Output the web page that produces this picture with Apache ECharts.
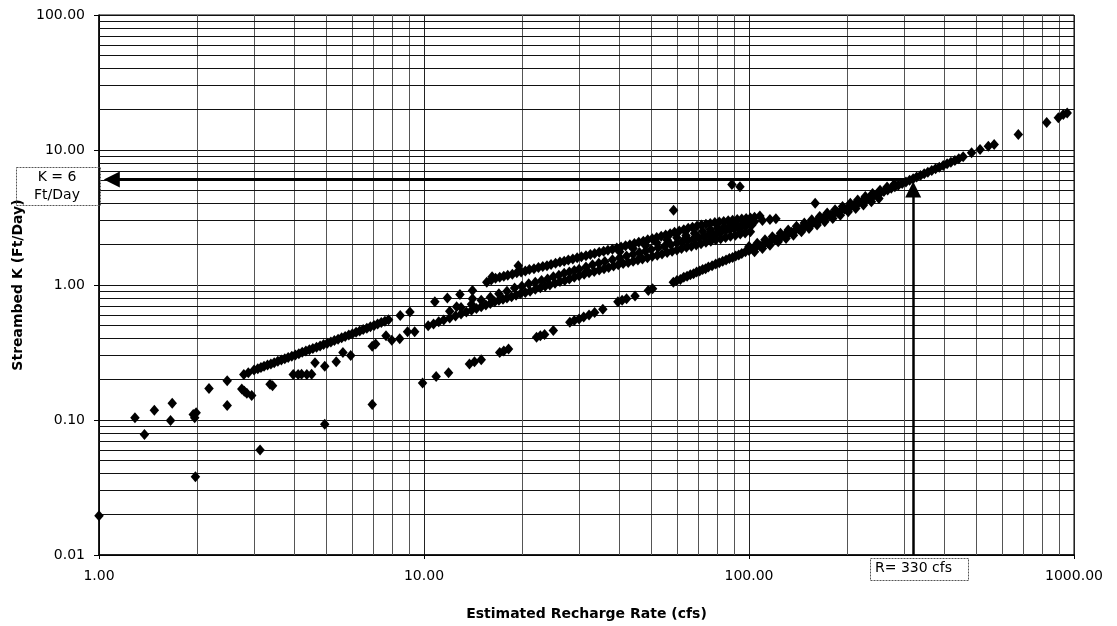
<!DOCTYPE html>
<html>
<head>
<meta charset="utf-8">
<script src="https://cdn.jsdelivr.net/npm/echarts@6/dist/echarts.min.js"></script>
<style>
html,body{margin:0;padding:0;background:#fff;}
#chart{width:1117px;height:626px;}
</style>
</head>
<body>
<div id="chart"></div>
<script>
// ---- axis ticks and grid values ----
const xTickValues = [1, 10, 100, 1000];
const yTickValues = [0.01, 0.1, 1, 10, 100];
const xMinorGrid = [2,3,4,5,6,7,8,9,20,30,40,50,60,70,80,90,200,300,400,500,600,700,800,900];
const yMinorGrid = [0.02,0.03,0.04,0.05,0.06,0.07,0.08,0.09,0.2,0.3,0.4,0.5,0.6,0.7,0.8,0.9,2,3,4,5,6,7,8,9,20,30,40,50,60,70,80,90];

// ---- annotation values ----
const kValue = 6.05;      // K = 6 Ft/Day
const rValue = 320;       // R = 330 cfs (as drawn)

// ---- data (x = recharge cfs, y = K ft/day) ----
const lowScatter = [
[1.0,0.0195],[1.29,0.104],[1.38,0.078],[1.48,0.118],[1.66,0.099],[1.68,0.133],[1.95,0.11],[1.97,0.104],[1.99,0.113],[1.98,0.038],
[2.18,0.171],[2.48,0.195],[2.48,0.128],[2.75,0.17],[2.8,0.163],[2.85,0.158],[2.95,0.152],[3.13,0.06],[3.36,0.184],[3.42,0.179],
[3.96,0.217],[4.1,0.217],[4.2,0.218],[4.36,0.217],[4.51,0.218],[4.62,0.266],[4.95,0.25],[4.95,0.093],[5.37,0.27],[5.63,0.316],
[5.95,0.3],[6.93,0.13],[6.93,0.352],[7.1,0.365],[7.64,0.42],[7.96,0.39],[8.42,0.40],[8.9,0.45],[9.36,0.45]
];
const bandUpper = [
[2.79,0.217],[2.88,0.224],[3.0,0.235],[3.08,0.24],[3.15,0.245],[3.22,0.25],[3.3,0.255],[3.38,0.26],[3.46,0.265],[3.55,0.272],
[3.64,0.278],[3.73,0.284],[3.82,0.29],[3.92,0.297],[4.02,0.303],[4.12,0.31],[4.22,0.317],[4.33,0.324],[4.44,0.331],[4.55,0.338],
[4.67,0.346],[4.79,0.354],[4.91,0.362],[5.04,0.37],[5.17,0.379],[5.3,0.388],[5.44,0.397],[5.58,0.406],[5.72,0.416],[5.87,0.426],
[6.02,0.436],[6.18,0.446],[6.34,0.457],[6.5,0.468],[6.67,0.479],[6.84,0.49],[7.02,0.502],[7.2,0.514],[7.39,0.527],[7.58,0.54],[7.78,0.553],
[8.45,0.595],[9.05,0.63],[10.8,0.75],[11.8,0.80],[12.9,0.85],[14.1,0.91],
[15.6,1.05],[16.1,1.09],[16.6,1.12],[17.1,1.14],[17.6,1.16],[18.1,1.18],[18.7,1.2],[19.3,1.23],[19.9,1.25],[20.5,1.27],
[21.1,1.3],[21.8,1.32],[22.5,1.35],[23.2,1.37],[23.9,1.39],[24.6,1.42],[25.4,1.45],[26.2,1.48],[27.0,1.5],[27.8,1.53],
[28.7,1.56],[29.6,1.59],[30.5,1.62],[31.5,1.65],[32.5,1.68],[33.5,1.71],[34.6,1.75],[35.7,1.78],[36.8,1.81],[38,1.84],
[39.2,1.88],[40.4,1.91],[41.7,1.95],[43,1.99],[44.4,2.03],[45.8,2.07],[47.3,2.11],[48.8,2.16],[50.4,2.2],[52,2.25],
[53.7,2.3],[55.4,2.35],[57.2,2.4],[59,2.46],[61,2.51],[63,2.57],[65,2.63],[67,2.68],[69.2,2.73],[71.4,2.78],
[73.7,2.82],[76,2.86],[78.5,2.9],[81,2.93],[83.6,2.96],[86.3,2.99],[89,3.02],[92,3.05],[95,3.08],[98,3.11],[101,3.14],[104,3.18]
];
const bandMiddle = [
[10.3,0.50],[10.7,0.515],[11.1,0.535],[11.5,0.55],[12,0.57],[12.5,0.59],[13,0.61],[13.5,0.63],[14,0.65],[14.5,0.67],
[15,0.69],[15.5,0.71],[16,0.73],[16.5,0.75],[17,0.77],[17.5,0.785],[18,0.8],[18.6,0.82],[19.2,0.84],[19.8,0.86],
[20.5,0.88],[21.2,0.9],[22,0.93],[22.8,0.955],[23.6,0.98],[24.4,1.0],[25.3,1.03],[26.2,1.06],[27.1,1.08],[28,1.11],
[29,1.14],[30,1.17],[31.1,1.2],[32.2,1.23],[33.4,1.26],[34.6,1.29],[35.8,1.32],[37,1.35],[38.3,1.38],[39.6,1.41],
[41,1.44],[42.5,1.47],[44,1.5],[45.5,1.53],[47,1.56],[48.7,1.59],[50.4,1.63],[52.2,1.66],[54,1.7],[56,1.74],
[58,1.78],[60,1.82],[62,1.86],[64.2,1.9],[66.5,1.94],[68.8,1.98],[71.2,2.02],[73.7,2.07],[76.3,2.11],[79,2.16],
[81.8,2.2],[84.7,2.25],[87.7,2.3],[90.8,2.34],[94,2.39],[97.3,2.43],[101,2.48]
];
const bandMiddle2 = [
[12,0.64],[13,0.68],[14,0.72],[15,0.77],[16,0.81],[17,0.86],[18,0.9],[19,0.95],[20,0.98],[21,1.02],
[22,1.05],[23,1.08],[24,1.11],[25,1.15],[26,1.18],[27,1.22],[28,1.25],[29,1.28],[30,1.31],[31.5,1.36],
[33,1.41],[34.5,1.45],[36,1.49],[38,1.54],[40,1.59],[42,1.64],[44,1.69],[46,1.74],[48,1.78],[50,1.83],
[52.5,1.89],[55,1.94],[57.5,1.99],[60,2.05],[62.5,2.1],[65,2.16],[67.5,2.2],[70,2.25],[72.5,2.3],[75,2.35],
[77.5,2.4],[80,2.45],[82.5,2.5],[85,2.54],[87.5,2.58],[90,2.62],[92.5,2.66],[95,2.7],[98,2.72],[102,2.78]
];
const bandFill = [
[40,1.76],[44,1.86],[48,1.96],[52,2.06],[56,2.15],[60,2.24],[64,2.33],[68,2.42],[72,2.5],[76,2.58],
[80,2.64],[84,2.7],[88,2.76],[92,2.8],[96,2.85],[100,2.9],[104,2.95],[110,3.0],[116,3.05]
];
const bandLowerSparse = [
[9.9,0.188],[10.9,0.21],[11.9,0.224],[13.8,0.26],[14.3,0.27],[15.0,0.28],[17.1,0.316],[17.6,0.325],[18.2,0.335],[22.2,0.41],
[22.8,0.42],[23.5,0.43],[25.0,0.46],[28.1,0.53],[29.0,0.545],[30.0,0.56],[31.0,0.58],[32.2,0.6],[33.5,0.625],[35.5,0.66],
[39.5,0.75],[40.7,0.77],[42,0.79],[44.6,0.83],[49,0.91],[50.5,0.94]
];
const bandLower = [
[58.5,1.05],[60,1.08],[61.5,1.1],[63,1.14],[64.5,1.16],[66,1.19],[67.5,1.21],[69,1.25],[70.5,1.27],[72,1.3],
[73.5,1.32],[75,1.36],[77,1.39],[79,1.43],[81,1.46],[83,1.5],[85,1.53],[87,1.57],[89,1.6],[91,1.64],
[93,1.67],[95,1.71],[97.5,1.76],[100,1.8],[102.5,1.85],[105,1.9],[108,1.95],[111,2.01],[114,2.06],[117,2.12],
[120,2.18],[123,2.23],[126,2.29],[129,2.35],[132,2.4],[135,2.46],[138.5,2.53],[142,2.6],[145.5,2.66],[149,2.73],
[153,2.8],[157,2.88],[161,2.96],[165,3.04],[169,3.12],[173.5,3.2],[178,3.29],[182.5,3.38],[187,3.46],[192,3.56],
[197,3.66],[202,3.76],[207,3.86],[212,3.96],[217.5,4.07],[223,4.18],[229,4.3],[235,4.42],[241,4.54],[247,4.66],
[253,4.79],[260,4.92],[267,5.06],[274,5.2],[281,5.34],[288,5.48],[296,5.64],[304,5.8],[312,5.97],[320,6.13],
[328,6.3],[337,6.48],[346,6.66],[355,6.85],[365,7.05],[375,7.26],[385,7.46],[396,7.68],[407,7.9],[418,8.12],
[430,8.37],[442,8.62],[456,8.9]
];
const bandLowerHigh = [
[100,1.93],[106,2.04],[112,2.16],[118,2.28],[125,2.42],[132,2.56],[140,2.72],[148,2.88],[156,3.04],[165,3.22],
[174,3.41],[184,3.61],[194,3.82],[205,4.04],[216,4.27],[228,4.52],[240,4.77],[253,5.04],[266,5.31],[280,5.6]
];
const bandLowerLow = [
[104,1.76],[110,1.86],[116,1.97],[123,2.09],[130,2.21],[137,2.34],[145,2.48],[153,2.62],[162,2.78],[171,2.94],
[181,3.11],[191,3.29],[202,3.49],[213,3.69],[225,3.91],[238,4.14],[251,4.38]
];
const bandLowerTail = [
[484,9.53],[514,10.1],[545,10.67],[568,11.0],[674,13.0],[824,16.0],[895,17.3],[927,18.3],[953,18.8]
];
const outliers = [
[16.2,1.15],[19.5,1.39],[12.6,0.69],[14.1,0.79],[58.6,3.58],[88.6,5.56],[93.8,5.35],[159.8,4.03],[108,3.25],[121,3.1]
];

// ---- chart ----
const FONT = 'DejaVu Sans, Liberation Sans, Arial, sans-serif';
const chart = echarts.init(document.getElementById('chart'), null, {renderer: 'canvas'});

function scatterSeries(name, data) {
  return {
    name: name, type: 'scatter', data: data, z: 3,
    symbol: 'diamond', symbolSize: [9.5, 11],
    itemStyle: {color: '#000', opacity: 1},
    emphasis: {disabled: true},
    silent: true
  };
}

const gridLines = xMinorGrid.map(v => ({xAxis: v, lineStyle: {color: '#555', width: 1}}))
  .concat(yMinorGrid.map(v => ({yAxis: v, lineStyle: {color: '#111', width: 1.2}})));

const series = [
  Object.assign(scatterSeries('low', lowScatter), {
    markLine: {
      silent: true, z: 1, symbol: 'none', animation: false,
      label: {show: false},
      lineStyle: {type: 'solid'},
      data: gridLines
    }
  }),
  scatterSeries('upper', bandUpper),
  scatterSeries('middle', bandMiddle),
  scatterSeries('middle2', bandMiddle2),
  scatterSeries('fill', bandFill),
  scatterSeries('lowerSparse', bandLowerSparse),
  scatterSeries('lower', bandLower),
  scatterSeries('lowerHigh', bandLowerHigh),
  scatterSeries('lowerLow', bandLowerLow),
  scatterSeries('lowerTail', bandLowerTail),
  Object.assign(scatterSeries('outliers', outliers), {
    markLine: {
      silent: true, z: 6, animation: false,
      label: {show: false},
      data: [
        [{coord: [rValue, kValue], symbol: 'none', lineStyle: {color: '#000', width: 3, type: 'solid'}},
         {coord: [1.095, kValue], symbol: 'triangle', symbolSize: 16}],
        [{coord: [rValue, 0.01], symbol: 'none', lineStyle: {color: '#000', width: 2.5, type: 'solid'}},
         {coord: [rValue, 5.1], symbol: 'triangle', symbolSize: 16}]
      ]
    }
  })
];

chart.setOption({
  animation: false,
  backgroundColor: '#fff',
  grid: {left: 99, right: 43, top: 15, bottom: 69, show: true, borderColor: '#000', borderWidth: 1, backgroundColor: 'transparent'},
  xAxis: {
    type: 'log', logBase: 10, min: 1, max: 1000,
    name: 'Estimated Recharge Rate (cfs)', nameLocation: 'middle', nameGap: 52,
    nameTextStyle: {fontFamily: FONT, fontWeight: 'bold', fontSize: 14, color: '#000'},
    axisLine: {show: true, lineStyle: {color: '#000', width: 1.5}},
    axisTick: {show: true, length: 4, lineStyle: {color: '#000'}},
    axisLabel: {fontFamily: FONT, fontSize: 14, color: '#000', margin: 14,
      formatter: v => (xTickValues.find(t => Math.abs(t - v) / t < 1e-6) || v).toFixed(2)},
    splitLine: {show: true, lineStyle: {color: '#222', width: 1}},
    minorTick: {show: false}
  },
  yAxis: {
    type: 'log', logBase: 10, min: 0.01, max: 100,
    name: 'Streambed K (Ft/Day)', nameLocation: 'middle', nameGap: 74,
    nameTextStyle: {fontFamily: FONT, fontWeight: 'bold', fontSize: 14, color: '#000'},
    axisLine: {show: true, lineStyle: {color: '#000', width: 1.5}},
    axisTick: {show: true, length: 5, lineStyle: {color: '#000'}},
    axisLabel: {fontFamily: FONT, fontSize: 14, color: '#000', margin: 14,
      formatter: v => (yTickValues.find(t => Math.abs(t - v) / t < 1e-6) || v).toFixed(2)},
    splitLine: {show: true, lineStyle: {color: '#111', width: 1.2}}
  },
  graphic: [
    {type: 'rect', left: 14, top: 165, z: 10,
      shape: {width: 84, height: 38},
      style: {fill: 'none', stroke: '#555', lineWidth: 1, lineDash: [2, 1]}},
    {type: 'text', x: 57, y: 170, z: 11,
      style: {text: 'K = 6', font: '14px ' + FONT, fill: '#000', textAlign: 'center'}},
    {type: 'text', x: 57, y: 188, z: 11,
      style: {text: 'Ft/Day', font: '14px ' + FONT, fill: '#000', textAlign: 'center'}},
    {type: 'rect', left: 870, top: 558, z: 10,
      shape: {width: 98, height: 22},
      style: {fill: '#fff', stroke: '#555', lineWidth: 1, lineDash: [2, 1]}},
    {type: 'text', left: 875, top: 561, z: 11,
      style: {text: 'R= 330 cfs', font: '14px ' + FONT, fill: '#000'}}
  ],
  series: series
});
</script>
</body>
</html>
